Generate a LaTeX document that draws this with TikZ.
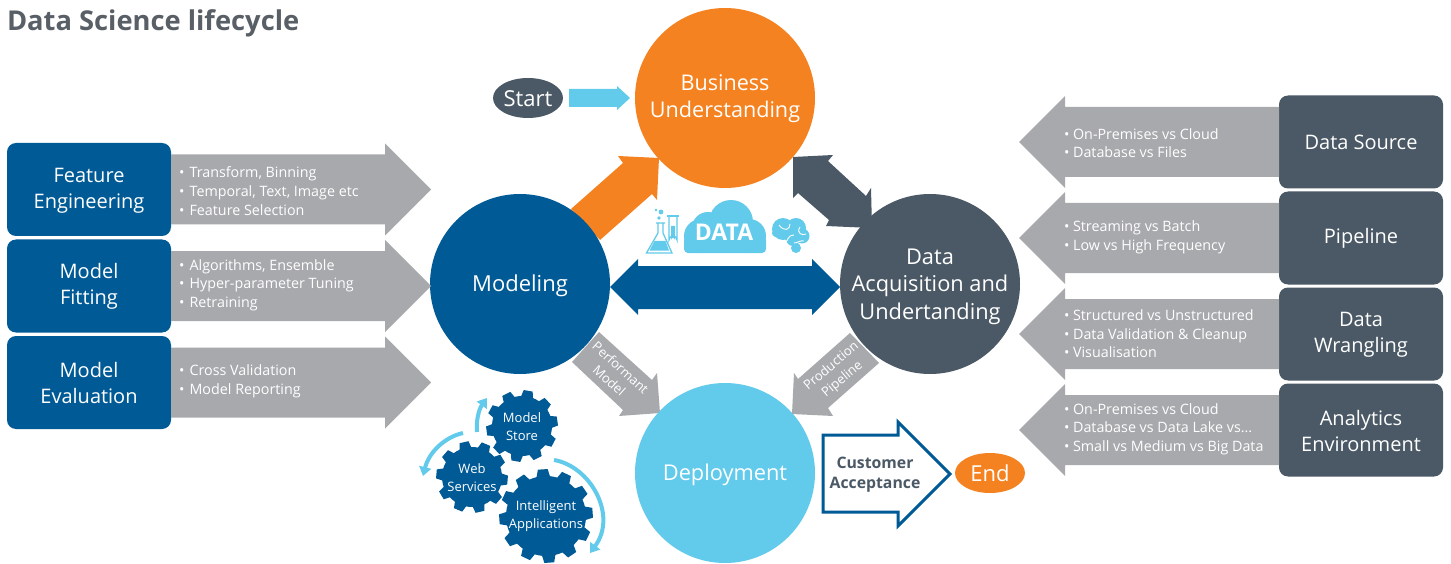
\documentclass[tikz,border=0pt]{standalone}
\usepackage{fontspec}
\setmainfont{Open Sans}
\usetikzlibrary{arrows.meta,shapes.geometric}
\definecolor{cblue}{HTML}{005A96}
\definecolor{corange}{HTML}{F58220}
\definecolor{cdark}{HTML}{4A5965}
\definecolor{clight}{HTML}{62CAEA}
\definecolor{cgray}{HTML}{A7A9AC}
\definecolor{ctitle}{HTML}{595F66}
\newcommand\fs[2]{\fontsize{#1}{#2}\selectfont}
\tikzset{
  every node/.style={inner sep=0pt,outer sep=0pt,align=center,text=white},
  bigcircle/.style={circle,fill,minimum size=180pt},
  sidebox/.style={rounded corners=9pt,minimum width=164pt,minimum height=93pt},
  sidelabel/.style={font=\fs{20}{26}},
  bullets/.style={anchor=west,align=left,font=\fs{14.3}{18.6}},
  pill/.style={ellipse,minimum width=70pt,minimum height=40pt,font=\fs{22}{26}},
  block/.style={fill=cgray},
  rottext/.style={font=\fs{13}{17}},
  gearfill/.style={fill=cblue},
  gearlabel/.style={font=\fs{13}{18}},
  swirl/.style={draw=clight,line width=4pt,-{Triangle[width=12pt,length=9pt]}},
  icon/.style={draw=clight,line width=1.3pt,fill=white},
}
\newcommand\gear[6]{% x y Router Rinner teeth rot
  \begin{scope}[shift={(#1,#2)},rotate=#6]
    \pgfmathsetmacro\gs{360/#5}
    \pgfmathtruncatemacro\gn{#5-1}
    \fill[gearfill] ({-0.32*\gs}:#4)
      \foreach \i in {0,...,\gn} {
        -- ({\i*\gs-0.32*\gs}:#4) -- ({\i*\gs-0.2*\gs}:#3)
        -- ({\i*\gs+0.2*\gs}:#3) -- ({\i*\gs+0.32*\gs}:#4)
        -- ({\i*\gs+0.5*\gs}:#4)
      } -- cycle;
  \end{scope}}
\newcommand\leftblock[1]{\fill[block] (#1.east) ++(0,-35) -- ++(214,0) -- ++(0,-11) -- ++(46,46) -- ++(-46,46) -- ++(0,-11) -- ++(-214,0) -- cycle;}
\newcommand\rightblock[1]{\fill[block] (#1.west) ++(0,-35) -- ++(-214,0) -- ++(0,-11) -- ++(-46,46) -- ++(46,46) -- ++(0,-11) -- ++(214,0) -- cycle;}
\begin{document}
\begin{tikzpicture}[x=1pt,y=-1pt]
\useasboundingbox (0,0) rectangle (1451,564);
\fill[white] (0,0) rectangle (1451,564);

\node[anchor=west,text=ctitle,font=\fs{27.3}{30}\bfseries] (title) at (7,23.5) {Data Science lifecycle};

% connectors between circles
\fill[corange] (571,209) -- (623,163) -- (618,156) -- (659,158) -- (657,200) -- (652,194) -- (600,240) -- cycle;
\fill[cdark] (793,157) -- (833,155) -- (828,161) -- (866,196) -- (871,188) -- (872,228) -- (826,226) -- (829,220) -- (798,193) -- (793,198) -- cycle;
\fill[cblue] (610,287) -- (638,259) -- (638,266) -- (812,266) -- (812,259) -- (840,287) -- (812,315) -- (812,309) -- (638,309) -- (638,315) -- cycle;
\fill[block] (599,332) -- (652,380) -- (657,373) -- (660,413) -- (619,416) -- (623,410) -- (572,362) -- cycle;
\fill[block] (850,333) -- (879,363) -- (828,408) -- (833,416) -- (792,414) -- (794,373) -- (798,379) -- cycle;

% circles
\node[bigcircle,corange] (bu) at (725,98) {};
\node[bigcircle,cblue] (mo) at (520,284) {};
\node[bigcircle,cdark] (da) at (930,284) {};
\node[bigcircle,clight] (de) at (725,473) {};
\node[font=\fs{21.6}{27}] (but) at (725,99) {Business\\Understanding};
\node[font=\fs{22}{27}] (mot) at (520,286) {Modeling};
\node[font=\fs{21.8}{27.5}] (dat) at (930,286.5) {Data\\Acquisition and\\Undertanding};
\node[font=\fs{21.8}{27}] (det) at (725,475) {Deployment};

\node[rottext,rotate=-42] (perf) at (615,374) {Performant\\Model};
\node[rottext,rotate=40] (prod) at (837,373) {Production\\Pipeline};

% start / end
\node[pill,fill=cdark] (start) at (528,98) {};
\node[font=\fs{22}{26}] (startt) at (528,99) {Start};
\fill[clight] (start.east) ++(6,-9) -- ++(48,0) -- ++(0,-3) -- ++(13,12) -- ++(-13,12) -- ++(0,-3) -- ++(-48,0) -- cycle;
\node[pill,fill=corange] (end) at (990,473) {End};

% customer acceptance
\draw[cblue,line width=3pt,fill=white,miter limit=6] (823,435) -- (898,435) -- (898,422) -- (950,474) -- (898,526) -- (898,512) -- (823,512) -- cycle;
\node[text=cdark,font=\fs{15.8}{20}\bfseries] (ca) at (875,474.5) {Customer\\Acceptance};

% left boxes
\node[sidebox,fill=cblue] (fe) at (89,189.5) {};
\node[sidebox,fill=cblue] (mf) at (89,286) {};
\node[sidebox,fill=cblue] (me) at (89,382.5) {};
\node[sidelabel] (fet) at (89,190.5) {Feature\\Engineering};
\node[sidelabel] (mft) at (89,286) {Model\\Fitting};
\node[sidelabel] (met) at (89,383) {Model\\Evaluation};
\leftblock{fe}\leftblock{mf}\leftblock{me}
\node[bullets] (feb) at (179,191) {•\hspace{1.5pt} Transform, Binning\\•\hspace{1.5pt} Temporal, Text, Image etc\\•\hspace{1.5pt} Feature Selection};
\node[bullets] (mfb) at (179,285) {•\hspace{1.5pt} Algorithms, Ensemble\\•\hspace{1.5pt} Hyper-parameter Tuning\\•\hspace{1.5pt} Retraining};
\node[bullets] (meb) at (179,381) {•\hspace{1.5pt} Cross Validation\\•\hspace{1.5pt} Model Reporting};

% right boxes
\node[sidebox,fill=cdark] (ds) at (1361,142) {};
\node[sidebox,fill=cdark] (pi) at (1361,238) {};
\node[sidebox,fill=cdark] (dw) at (1361,334) {};
\node[sidebox,fill=cdark] (ae) at (1361,430) {};
\node[sidelabel] (dst) at (1361,142) {Data Source};
\node[sidelabel] (pit) at (1361,238) {Pipeline};
\node[sidelabel] (dwt) at (1361,335) {Data\\Wrangling};
\node[sidelabel] (aet) at (1361,431) {Analytics\\Environment};
\rightblock{ds}\rightblock{pi}\rightblock{dw}\rightblock{ae}
\node[bullets] (dsb) at (1064,143) {• On-Premises vs Cloud\\• Database vs Files};
\node[bullets] (pib) at (1064,237) {• Streaming vs Batch\\• Low vs High Frequency};
\node[bullets] (dwb) at (1064,334) {• Structured vs Unstructured\\• Data Validation \& Cleanup\\• Visualisation};
\node[bullets] (aeb) at (1064,429) {• On-Premises vs Cloud\\• Database vs Data Lake vs...\\• Small vs Medium vs Big Data};

% gears
\gear{522}{426}{36}{30}{10}{8}
\gear{472}{477}{36}{30}{10}{-5}
\gear{546}{516}{47}{40}{12}{4}
\node[gearlabel] (ms) at (522,427) {Model\\Store};
\node[gearlabel] (ws) at (472,478) {Web\\Services};
\node[gearlabel] (ia) at (546,516) {Intelligent\\Applications};
\draw[swirl] (477,432) .. controls (476,420) and (479,409) .. (487,398);
\draw[swirl] (463,433) .. controls (445,437) and (429,452) .. (423,476);
\draw[swirl] (554,460) .. controls (590,466) and (618,515) .. (590,553);

% data icons
\fill[clight] (701,236) circle (17) (749,236) circle (17) (708,228) circle (16) (731,222) circle (22);
\fill[clight,rounded corners=4pt] (684,236) rectangle (766,253);
\node[font=\fs{23}{26}\bfseries] (data) at (724,232) {DATA};
% flask
\draw[icon] (656,223) -- (665,223) (658,223) -- (658,233) -- (646.5,253) -- (672,253) -- (663,233) -- (663,223);
\fill[clight] (654.5,241) -- (665.5,241) -- (669,250.5) -- (649.5,250.5) -- cycle;
\fill[clight] (656,210) circle (1.4) (661,212) circle (2.4) (659,218) circle (1.8);
% tube
\draw[icon,fill=none] (667,216) -- (679,216);
\draw[icon,fill=none] (669,216) -- (669,240) arc[start angle=180,end angle=0,x radius=4,y radius=-4] -- (677,216);
\fill[clight] (671,226) -- (675,226) -- (675,240) arc[start angle=0,end angle=180,x radius=2,y radius=-2] -- cycle;
% brain
\fill[clight] (783,229) circle (11) (796,228) circle (10) (802,236) circle (7.5) (780,233) ellipse (8 and 5) (793,239) circle (7) (796,248) circle (5) (790,236) circle (6);
\draw[white,line width=.9pt] (779,225) .. controls (784,232) and (790,230) .. (790,224) (800,227) .. controls (796,233) and (802,236) .. (806,234) (784,243) .. controls (790,240) and (786,236) .. (794,235) (794,243) .. controls (798,243) and (800,240) .. (804,241);
\end{tikzpicture}
\end{document}
